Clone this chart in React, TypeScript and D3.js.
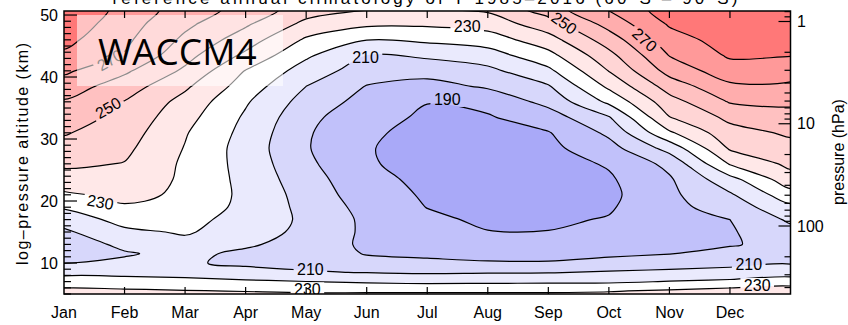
import React, { useMemo } from "react";
import * as d3 from "d3";

// month labels (ticks at the start of each month)
const months = ["Jan", "Feb", "Mar", "Apr", "May", "Jun", "Jul", "Aug", "Sep", "Oct", "Nov", "Dec"];

// grid positions of the temperature field
const gridMonths = [0, 1, 2, 3, 4, 5, 6, 7, 8, 9, 10, 11, 12];
const gridAlts = [4, 5.5, 7, 8.5, 10, 11.5, 13, 15, 17, 19, 21, 23.5, 26, 28.5, 31, 33.5, 36, 38.5, 41, 43.5, 46, 48.5, 51];

// temperature (K), one row per altitude (bottom to top), one column per month
const tempRows = [
  [240, 239, 238, 237, 236, 236, 236, 236, 236, 236, 237, 238, 240],
  [232.4, 231.6, 230.5, 229.5, 228.5, 228.6, 228.6, 228.7, 228.7, 229.4, 231.3, 233.6, 236.1],
  [224.7, 223.6, 222.4, 221.4, 220.1, 218.6, 217.6, 218.0, 218.2, 218.3, 220.4, 222.0, 224.5],
  [216.9, 217.2, 216.8, 214.2, 210.9, 209.6, 208.7, 209.2, 209.4, 211.1, 212.1, 213.2, 215.6],
  [209.7, 212.0, 211.5, 207.5, 207.0, 202.9, 201.5, 200.8, 200.7, 202.6, 205.4, 207.3, 209.3],
  [206.7, 209.0, 213.0, 207.5, 205.0, 199.5, 198.6, 197.3, 197.2, 198.5, 199.7, 203.0, 206.2],
  [204.0, 212.4, 217.2, 211.8, 205.0, 198.5, 196.8, 194.6, 194.4, 196.4, 198.8, 199.2, 203.1],
  [208.3, 217.9, 221.0, 215.5, 207.1, 198.3, 194.3, 190.3, 190.2, 193.5, 197.9, 199.0, 207.0],
  [214.1, 223.5, 222.0, 217.6, 207.8, 198.0, 191.9, 188.4, 188.6, 190.6, 197.2, 200.0, 211.6],
  [221.1, 229.0, 226.0, 217.5, 207.2, 196.6, 189.8, 187.8, 187.6, 189.0, 197.2, 204.3, 217.5],
  [228.4, 232.4, 228.5, 217.5, 206.3, 194.4, 188.9, 187.0, 186.5, 187.8, 197.9, 208.7, 226.0],
  [235.8, 236.0, 228.5, 217.0, 204.4, 192.8, 187.7, 186.1, 185.2, 188.8, 198.8, 216.7, 236.0],
  [241.8, 239.6, 228.4, 216.4, 202.2, 191.0, 186.6, 185.2, 186.3, 190.9, 202.7, 230.8, 242.3],
  [246.4, 242.2, 229.5, 215.8, 200.8, 190.6, 186.6, 186.5, 187.6, 196.2, 213.6, 241.2, 246.8],
  [250.8, 244.7, 230.8, 217.0, 201.2, 191.2, 187.7, 187.8, 189.4, 202.0, 228.5, 246.3, 251.4],
  [254.9, 247.1, 233.5, 218.6, 203.1, 192.5, 188.9, 189.1, 195.4, 209.3, 239.7, 252.4, 256.4],
  [259.0, 249.6, 236.7, 221.1, 206.1, 196.5, 190.2, 192.9, 202.9, 222.1, 246.0, 260.7, 261.8],
  [265.1, 255.1, 241.7, 225.4, 210.0, 199.6, 196.6, 201.3, 209.1, 232.1, 254.4, 268.0, 268.2],
  [271.8, 261.7, 248.3, 229.6, 215.7, 204.8, 203.6, 207.5, 217.8, 240.3, 263.6, 275.7, 274.5],
  [278.2, 269.4, 253.4, 237.9, 221.6, 210.0, 211.8, 215.5, 226.8, 247.0, 270.4, 281.3, 280.4],
  [282.8, 272.0, 258.0, 245.0, 228.5, 220.2, 222.0, 224.9, 235.9, 255.0, 275.7, 284.4, 283.7],
  [286.7, 274.2, 262.0, 251.3, 237.3, 231.7, 231.4, 234.0, 245.4, 263.4, 281.0, 287.4, 287.1],
  [290.5, 276.3, 265.5, 256.5, 245.0, 240.8, 239.0, 242.0, 255.0, 271.0, 285.0, 290.4, 290.4],
];

const levels = [190, 200, 210, 220, 230, 240, 250, 260, 270, 280];
const bandColors = ["#a9a9f8", "#c1c1fa", "#d7d7fb", "#eaeafd", "#ffffff", "#ffe8e8", "#ffd5d5", "#ffc1c1", "#ffadad", "#ff9999", "#ff7878"];

// contour labels: month, altitude (km), value, rotation
const labelMonths = [0.73, 0.76, 0.6, 4.98, 6.33, 6.66, 8.26, 9.59, 4.07, 4.02, 11.31, 11.45];
const labelAlts = [35.0, 42.7, 19.8, 43.2, 36.3, 48.2, 48.7, 46.0, 9.03, 5.75, 9.7, 6.45];
const labelValues = [250, 270, 230, 210, 190, 230, 250, 270, 210, 230, 210, 230];
const labelAngles = [-30, -30, 10, 0, 0, 0, 35, 42, 0, 0, 0, 0];

const altTicks = [10, 20, 30, 40, 50];
const pressTicks = [1, 10, 100];

const W = 848;
const H = 325;
const left = 64, right = 790.5, top = 11, bottom = 294;
const font = "'Liberation Sans', Arial, sans-serif";

export default function App() {
  const x = d3.scaleLinear().domain([0, 12]).range([left, right]);
  const y = d3.scaleLinear().domain([5, 50.65]).range([bottom, top]);
  const p = d3.scaleLog().domain([1, 100]).range([21.5, 226]);

  const bands = useMemo(() => {
    const nx = gridMonths.length, ny = gridAlts.length;
    // d3.contours puts sample i at coordinate i + 0.5
    const gx = d3.scaleLinear().domain(d3.range(nx).map(i => i + 0.5)).range(gridMonths);
    const gy = d3.scaleLinear().domain(d3.range(ny).map(i => i + 0.5)).range(gridAlts);
    const line = d3.line<[number, number]>()
      .x(d => x(gx(d[0])))
      .y(d => y(gy(d[1])))
      .curve(d3.curveCatmullRomClosed.alpha(0.5));
    const polys = d3.contours().size([nx, ny]).thresholds(levels).smooth(true)(tempRows.flat());
    return polys.map((mp, i) => ({
      value: mp.value,
      color: bandColors[i + 1],
      d: mp.coordinates.map(poly => poly.map(ring => line(ring.slice(0, -1) as [number, number][])).join("")).join(""),
    }));
  }, []);

  const labels = labelValues.map((v, i) => ({
    text: String(v),
    cx: x(labelMonths[i]),
    cy: y(labelAlts[i]),
    angle: labelAngles[i],
  }));

  const altMinor = d3.range(5, 51);
  const pMinor: number[] = [];
  [0.1, 1, 10, 100].forEach(dec => d3.range(1, 10).forEach(k => {
    const v = dec * k;
    const py = p(v);
    if (py >= top && py <= bottom && !pressTicks.includes(v)) pMinor.push(v);
  }));

  return (
    <svg width={W} height={H} style={{ position: "absolute", left: 0, top: 0, background: "#fff" }}>
      <defs>
        <clipPath id="plot">
          <rect x={left} y={top} width={right - left} height={bottom - top} />
        </clipPath>
        <mask id="gaps" maskUnits="userSpaceOnUse" x={0} y={0} width={W} height={H}>
          <rect width={W} height={H} fill="white" />
          {labels.map((l, i) => (
            <rect key={i} x={-l.text.length * 4.6 - 3} y={-7} width={l.text.length * 9.2 + 6} height={14}
              fill="black" transform={`translate(${l.cx},${l.cy}) rotate(${l.angle})`} />
          ))}
        </mask>
      </defs>

      <text x={425} y={4} textAnchor="middle" fontFamily={font} fontSize={17} textLength={625}>
        reference annual climatology of T 1985–2016 (60°S – 90°S)
      </text>

      <g clipPath="url(#plot)">
        <rect x={left} y={top} width={right - left} height={bottom - top} fill={bandColors[0]} />
        {bands.map(b => (
          <path key={b.value} d={b.d} fill={b.color} fillRule="evenodd" stroke="none" />
        ))}
        <g mask="url(#gaps)">
          {bands.map(b => (
            <path key={b.value} d={b.d} fill="none" stroke="#000" strokeWidth={1.2} />
          ))}
        </g>
        {labels.map((l, i) => (
          <text key={i} transform={`translate(${l.cx},${l.cy}) rotate(${l.angle})`} textAnchor="middle"
            dominantBaseline="central" fontFamily={font} fontSize={16}>{l.text}</text>
        ))}
        <rect x={77} y={15} width={206} height={71} fill="#fff" opacity={0.55} />
        <text x={98} y={65} fontFamily="'Open Sans', sans-serif" fontSize={37} fill="#000">WACCM4</text>
      </g>

      {/* frame */}
      <rect x={left} y={top} width={right - left} height={bottom - top} fill="none" stroke="#000" strokeWidth={1.5} />

      {/* month ticks */}
      {months.map((m, i) => (
        <g key={m}>
          {i > 0 && <line x1={x(i)} x2={x(i)} y1={bottom} y2={bottom - 7} stroke="#000" strokeWidth={1.2} />}
          {i > 0 && <line x1={x(i)} x2={x(i)} y1={top} y2={top + 7} stroke="#000" strokeWidth={1.2} />}
          <text x={x(i)} y={318} textAnchor="middle" fontFamily={font} fontSize={16}>{m}</text>
        </g>
      ))}

      {/* altitude axis */}
      {altMinor.map(a => (
        <line key={a} x1={left} x2={left + (a % 10 === 0 ? 13 : 7)} y1={y(a)} y2={y(a)} stroke="#000" strokeWidth={1.2} />
      ))}
      {altTicks.map(a => (
        <text key={a} x={58} y={y(a)} textAnchor="end" dominantBaseline="central" fontFamily={font} fontSize={16}>{a}</text>
      ))}
      <text transform={`translate(22,154) rotate(-90)`} textAnchor="middle" dominantBaseline="central"
        fontFamily={font} fontSize={16} textLength={222}>log–pressure altitude (km)</text>

      {/* pressure axis */}
      {pressTicks.map(v => (
        <g key={v}>
          <line x1={right} x2={right - 12} y1={p(v)} y2={p(v)} stroke="#000" strokeWidth={1.2} />
          <text x={797} y={p(v)} dominantBaseline="central" fontFamily={font} fontSize={16}>{v}</text>
        </g>
      ))}
      {pMinor.map(v => (
        <line key={v} x1={right} x2={right - 6} y1={p(v)} y2={p(v)} stroke="#000" strokeWidth={1.2} />
      ))}
      <text transform={`translate(838,152) rotate(-90)`} textAnchor="middle" dominantBaseline="central"
        fontFamily={font} fontSize={16}>pressure (hPa)</text>
    </svg>
  );
}
